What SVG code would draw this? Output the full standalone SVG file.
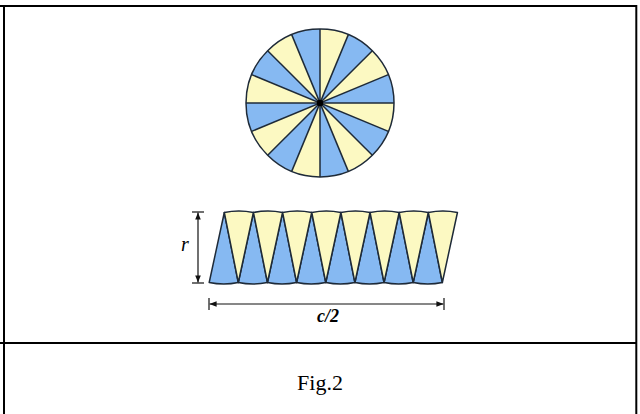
<svg xmlns="http://www.w3.org/2000/svg" xmlns:xlink="http://www.w3.org/1999/xlink" width="640" height="414" viewBox="0 0 640 414">
<style>
.frame{stroke:#000;stroke-width:2;fill:none}
.blue{fill:#86b9f2}
.yel{fill:#fcf9c2}
.edge{stroke:#1e2a38;stroke-width:1.5;stroke-linejoin:round}
.dim{stroke:#111;stroke-width:1.2;fill:none}
.lbl{font-family:"Liberation Serif","Times New Roman",serif;fill:#000}
</style>
<defs>
<marker id="arr" viewBox="0 0 10 10" refX="10" refY="5" markerWidth="7" markerHeight="7" orient="auto-start-reverse" markerUnits="userSpaceOnUse">
<path d="M0,1 L10,5 L0,9 Z" fill="#111"/>
</marker>
<path id="bs" d="M224.3,212.5 L209.2,282.5 A72,72 0 0 0 238.3,282.5 Z"/>
<path id="ys" d="M238.3,282.5 L224.3,212.5 A72,72 0 0 1 253.4,212.5 Z"/>
</defs>
<g id="table">
<line class="frame" x1="0" y1="6" x2="637" y2="6"/>
<line class="frame" x1="4" y1="5" x2="4" y2="414"/>
<line class="frame" x1="636.3" y1="5" x2="636.3" y2="414"/>
<line class="frame" x1="0" y1="343" x2="637" y2="343"/>
</g>
<g id="circle">
<circle cx="320" cy="103" r="74" class="yel"/>
<g class="blue">
<path d="M320,103 L348.32,34.63 A74,74 0 0 1 372.33,50.67 Z"/>
<path d="M320,103 L388.37,74.68 A74,74 0 0 1 394,103 Z"/>
<path d="M320,103 L388.37,131.32 A74,74 0 0 1 372.33,155.33 Z"/>
<path d="M320,103 L348.32,171.37 A74,74 0 0 1 320,177 Z"/>
<path d="M320,103 L291.68,171.37 A74,74 0 0 1 267.67,155.33 Z"/>
<path d="M320,103 L251.63,131.32 A74,74 0 0 1 246,103 Z"/>
<path d="M320,103 L251.63,74.68 A74,74 0 0 1 267.67,50.67 Z"/>
<path d="M320,103 L291.68,34.63 A74,74 0 0 1 320,29 Z"/>
</g>
<g class="edge">
<line x1="320" y1="29" x2="320" y2="177"/>
<line x1="348.32" y1="34.63" x2="291.68" y2="171.37"/>
<line x1="372.33" y1="50.67" x2="267.67" y2="155.33"/>
<line x1="388.37" y1="74.68" x2="251.63" y2="131.32"/>
<line x1="394" y1="103" x2="246" y2="103"/>
<line x1="388.37" y1="131.32" x2="251.63" y2="74.68"/>
<line x1="372.33" y1="155.33" x2="267.67" y2="50.67"/>
<line x1="348.32" y1="171.37" x2="291.68" y2="34.63"/>
</g>
<circle cx="320" cy="103" r="74" fill="none" class="edge"/>
<circle cx="320" cy="103" r="3.2" fill="#000"/>
</g>
<g id="strip" class="edge">
<use xlink:href="#bs" href="#bs" class="blue" transform="translate(0,0)"/>
<use xlink:href="#bs" href="#bs" class="blue" transform="translate(29.15,0)"/>
<use xlink:href="#bs" href="#bs" class="blue" transform="translate(58.3,0)"/>
<use xlink:href="#bs" href="#bs" class="blue" transform="translate(87.45,0)"/>
<use xlink:href="#bs" href="#bs" class="blue" transform="translate(116.6,0)"/>
<use xlink:href="#bs" href="#bs" class="blue" transform="translate(145.75,0)"/>
<use xlink:href="#bs" href="#bs" class="blue" transform="translate(174.9,0)"/>
<use xlink:href="#bs" href="#bs" class="blue" transform="translate(204.05,0)"/>
<use xlink:href="#ys" href="#ys" class="yel" transform="translate(0,0)"/>
<use xlink:href="#ys" href="#ys" class="yel" transform="translate(29.15,0)"/>
<use xlink:href="#ys" href="#ys" class="yel" transform="translate(58.3,0)"/>
<use xlink:href="#ys" href="#ys" class="yel" transform="translate(87.45,0)"/>
<use xlink:href="#ys" href="#ys" class="yel" transform="translate(116.6,0)"/>
<use xlink:href="#ys" href="#ys" class="yel" transform="translate(145.75,0)"/>
<use xlink:href="#ys" href="#ys" class="yel" transform="translate(174.9,0)"/>
<use xlink:href="#ys" href="#ys" class="yel" transform="translate(204.05,0)"/>
</g>
<g id="dim-r">
<line class="dim" x1="192" y1="212" x2="204" y2="212"/>
<line class="dim" x1="192" y1="283" x2="204" y2="283"/>
<line class="dim" x1="198" y1="212.6" x2="198" y2="282.4" marker-start="url(#arr)" marker-end="url(#arr)"/>
<text class="lbl" x="181" y="251" font-size="20" font-style="italic">r</text>
</g>
<g id="dim-c">
<line class="dim" x1="209" y1="298" x2="209" y2="310"/>
<line class="dim" x1="444" y1="298" x2="444" y2="310"/>
<line class="dim" x1="209.6" y1="304" x2="443.4" y2="304" marker-start="url(#arr)" marker-end="url(#arr)"/>
<text class="lbl" x="328" y="322" font-size="18" font-style="italic" font-weight="bold" text-anchor="middle">c/2</text>
</g>
<text id="caption" class="lbl" x="320" y="390" font-size="22" text-anchor="middle">Fig.2</text>
</svg>
